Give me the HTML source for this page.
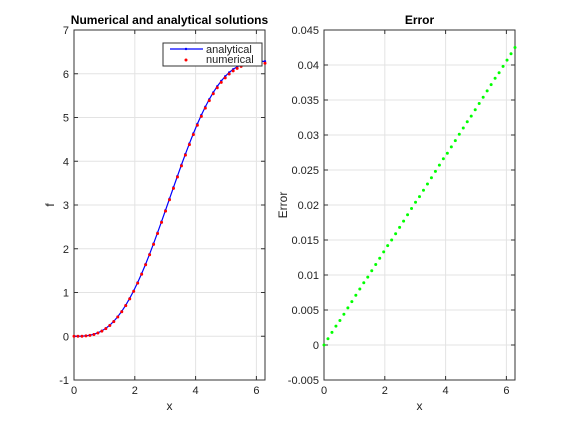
<!DOCTYPE html>
<html><head><meta charset="utf-8"><style>
body{margin:0;background:#fff;}
svg{display:block;font-family:"Liberation Sans",sans-serif;}
</style></head><body>
<svg id="c" width="569" height="427"></svg>
<script>
const xTicks=[0,2,4,6];
const fTicks=[-1,0,1,2,3,4,5,6,7];
const eTicks=[-0.005,0,0.005,0.01,0.015,0.02,0.025,0.03,0.035,0.04,0.045];
const eTickLabels=["-0.005","0","0.005","0.01","0.015","0.02","0.025","0.03","0.035","0.04","0.045"];
const nPoints=49;
const xMax=6.2832;
const analytical=[0,0.0004,0.0030,0.0100,0.0236,0.0457,0.0783,0.1229,0.1812,0.2542,0.3431,0.4485,0.5708,0.7103,0.8667,1.0396,1.2284,1.4319,1.6491,1.8783,2.1180,2.3662,2.6210,2.8802,3.1416,3.4030,3.6622,3.9170,4.1652,4.4049,4.6341,4.8513,5.0548,5.2436,5.4165,5.5729,5.7124,5.8347,5.9401,6.0290,6.1020,6.1603,6.2049,6.2375,6.2596,6.2732,6.2802,6.2828,6.2832];
const errorVals=[0,.0009,.0018,.0027,.0035,.0044,.0053,.0062,.0071,.0080,.0089,.0097,.0106,.0115,.0124,.0133,.0142,.0150,.0159,.0168,.0177,.0186,.0195,.0204,.0212,.0221,.0230,.0239,.0248,.0257,.0266,.0274,.0283,.0292,.0301,.0310,.0319,.0327,.0336,.0345,.0354,.0363,.0372,.0381,.0389,.0398,.0407,.0416,.0425];
const xs=analytical.map((_,i)=>i*xMax/(analytical.length-1));
const numerical=analytical.map((v,i)=>v-(errorVals[i]||0));

const NS="http://www.w3.org/2000/svg";
const svg=document.getElementById('c');
function mk(tag,attrs,parent){const e=document.createElementNS(NS,tag);for(const k in attrs)e.setAttribute(k,attrs[k]);(parent||svg).appendChild(e);return e;}

function axes(L,R,T,B,yMin,yMax,yTicks,yLabels,title,ylabel,prefix){
  const sx=v=>L+(v/xMax)*(R-L);
  const sy=v=>B-(v-yMin)/(yMax-yMin)*(B-T);
  const g=mk('g',{});
  
  
  mk('rect',{x:L,y:T,width:R-L,height:B-T,fill:'#fff'},g);
  xTicks.forEach(t=>{
    const x=sx(t);
    const l=mk('line',{x1:x,x2:x,y1:T,y2:B,stroke:'#e3e3e3','stroke-width':1},g);
    
    
    mk('line',{x1:x,x2:x,y1:B,y2:B-4,stroke:'#333'},g);
    mk('line',{x1:x,x2:x,y1:T,y2:T+4,stroke:'#333'},g);
    const tx=mk('text',{x:x,y:B+14,'font-size':11,'text-anchor':'middle',fill:'#222'},g);
    tx.textContent=t;
    
    
  });
  yTicks.forEach((t,i)=>{
    const y=sy(t);
    const l=mk('line',{x1:L,x2:R,y1:y,y2:y,stroke:'#e3e3e3','stroke-width':1},g);
    
    
    mk('line',{x1:L,x2:L+4,y1:y,y2:y,stroke:'#333'},g);
    mk('line',{x1:R,x2:R-4,y1:y,y2:y,stroke:'#333'},g);
    const tx=mk('text',{x:L-5,y:y+4,'font-size':11,'text-anchor':'end',fill:'#222'},g);
    tx.textContent=yLabels[i];
    
    
  });
  mk('rect',{x:L,y:T,width:R-L,height:B-T,fill:'none',stroke:'#333','stroke-width':1},g);
  const tt=mk('text',{x:(L+R)/2,y:T-6,'font-size':12,'font-weight':'bold','text-anchor':'middle',fill:'#000'},g);
  tt.textContent=title;
  
  
  const xl=mk('text',{x:(L+R)/2,y:B+30,'font-size':12,'text-anchor':'middle',fill:'#222'},g);
  xl.textContent='x';
  
  
  const yl=mk('text',{x:0,y:0,'font-size':12,'text-anchor':'middle',fill:'#222',transform:`translate(${L-(prefix==='left'?20:37)},${(T+B)/2}) rotate(-90)`},g);
  yl.textContent=ylabel;
  
  
  return {sx,sy};
}

const A=axes(74,265,30,380,-1,7,fTicks,fTicks,'Numerical and analytical solutions','f','left');
let d=xs.map((x,i)=>(i?'L':'M')+A.sx(x).toFixed(2)+','+A.sy(analytical[i]).toFixed(2)).join('');
const line=mk('path',{d:d,fill:'none',stroke:'#0000ff','stroke-width':1.2});


xs.forEach((x,i)=>{
  const c=mk('circle',{cx:A.sx(x),cy:A.sy(analytical[i]),r:1.2,fill:'#0000ff'});
  
  
});
xs.forEach((x,i)=>{
  const c=mk('circle',{cx:A.sx(x),cy:A.sy(numerical[i]),r:1.5,fill:'#ff0000'});
  
  
});
const lg=mk('g',{});


mk('rect',{x:163,y:43,width:99,height:23,fill:'#fff',stroke:'#333'},lg);
mk('line',{x1:170,x2:203,y1:49,y2:49,stroke:'#0000ff','stroke-width':1.2},lg);
mk('circle',{cx:186,cy:49,r:1.2,fill:'#0000ff'},lg);
mk('circle',{cx:186,cy:60,r:1.5,fill:'#ff0000'},lg);
const t1=mk('text',{x:206,y:53,'font-size':11,fill:'#222'},lg);t1.textContent='analytical';


const t2=mk('text',{x:206,y:63,'font-size':11,fill:'#222'},lg);t2.textContent='numerical';



const B=axes(324,515,30,380,-0.005,0.045,eTicks,eTickLabels,'Error','Error','right');
xs.forEach((x,i)=>{
  const c=mk('circle',{cx:B.sx(x),cy:B.sy(errorVals[i]),r:1.5,fill:'#00ff00'});
  
  
});
</script>
</body></html>
